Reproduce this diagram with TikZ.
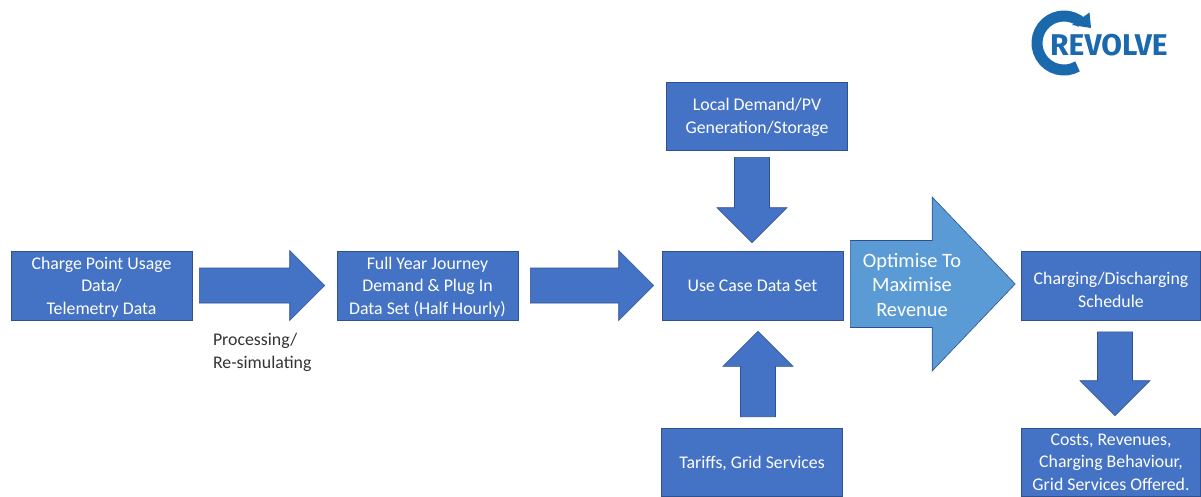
\documentclass[tikz,border=0pt]{standalone}
\usepackage{fontspec}
\setmainfont{Carlito}
\newfontfamily\logofont{Fira Sans}
\usetikzlibrary{calc}
\definecolor{boxblue}{HTML}{4472C4}
\definecolor{boxedge}{HTML}{2F528F}
\definecolor{optblue}{HTML}{5B9BD5}
\definecolor{logoblue}{HTML}{1A69AD}
\tikzset{
	x = 1pt, y = -1pt,
	databox/.style = {draw=boxedge, fill=boxblue, line width=.6pt, text=white, align=center,
		inner sep=0pt, minimum width=181pt, minimum height=69pt, text depth=0pt,
		font=\fontsize{17.8}{22.5}\selectfont},
	blockarrow/.style n args = {3}{draw=boxedge, fill=boxblue, line width=.6pt,
		to path = {($(\tikztostart)!#1pt!90:(\tikztotarget)$)
			-- ($(\tikztotarget)!#3pt!(\tikztostart)!#1pt!-90:(\tikztostart)$)
			-- ($(\tikztotarget)!#3pt!(\tikztostart)!#2pt!-90:(\tikztostart)$)
			-- (\tikztotarget)
			-- ($(\tikztotarget)!#3pt!(\tikztostart)!#2pt!90:(\tikztostart)$)
			-- ($(\tikztotarget)!#3pt!(\tikztostart)!#1pt!90:(\tikztostart)$)
			-- ($(\tikztostart)!#1pt!-90:(\tikztotarget)$) -- cycle}},
	flowarrow/.style = {blockarrow={17.5}{35}{35}}
}

\begin{document}
\begin{tikzpicture}
	\useasboundingbox (0,0) rectangle (1201,496);
	\node[databox] (usage) at (101.5,285.5) {Charge Point Usage\\Data/\\Telemetry Data};
	\node[databox] (journey) at (427.5,285.5) {Full Year Journey\\Demand \& Plug In\\Data Set (Half Hourly)};
	\node[databox] (usecase) at (752.5,285.5) {Use Case Data Set};
	\node[databox, minimum height=68pt] (localdemand) at (757,116) {Local Demand/PV\\Generation/Storage};
	\node[databox, minimum height=68pt] (tariffs) at (752,462) {Tariffs, Grid Services};
	\node[databox, minimum width=179pt, text height=42pt] (schedule) at (1111,286) {Charging/Discharging\\Schedule};
	\node[databox, minimum width=179pt, minimum height=68pt] (costs) at (1111,462) {Costs, Revenues,\\Charging Behaviour,\\Grid Services Offered.};
	\node[align=left, anchor=west, text=black!80, font=\fontsize{17.8}{23}\selectfont] (processing) at (209.5,352) {Processing/\\Re-simulating};
	\draw[flowarrow] ([xshift=7pt]usage.east) to ([xshift=-12pt]journey.west);
	\draw[flowarrow] ([xshift=12pt]journey.east) to ([xshift=-8pt]usecase.west);
	\draw[flowarrow] ([xshift=-5pt,yshift=-7pt]localdemand.south) to ([xshift=-.5pt,yshift=8pt]usecase.north);
	\draw[flowarrow] ([xshift=6pt,yshift=11pt]tariffs.north) to ([xshift=5.5pt,yshift=-11pt]usecase.south);
	\draw[flowarrow] ([xshift=4pt,yshift=-11pt]schedule.south) to ([xshift=4pt,yshift=12pt]costs.north);
	\draw[blockarrow={43.5}{87}{83}, fill=optblue] ([xshift=7pt,yshift=1.5pt]usecase.east) to ([xshift=-6pt,yshift=2pt]schedule.west);
	\node[align=center, text=white, font=\fontsize{20.4}{24.5}\selectfont] (optimise) at (912,285) {Optimise To\\Maximise\\Revenue};
	\draw[logoblue, line width=11pt] (1077.5,66.4) arc (-60:-310:27pt);
	\fill[logoblue] (1089.5,12.5) -- (1091,28) -- (1072,25) -- cycle;
	\node[anchor=west, inner sep=0pt, text=logoblue, font=\logofont\bfseries\fontsize{30}{30}\selectfont] (logotext) at (1050,45) {REVOLVE};
\end{tikzpicture}
\end{document}
